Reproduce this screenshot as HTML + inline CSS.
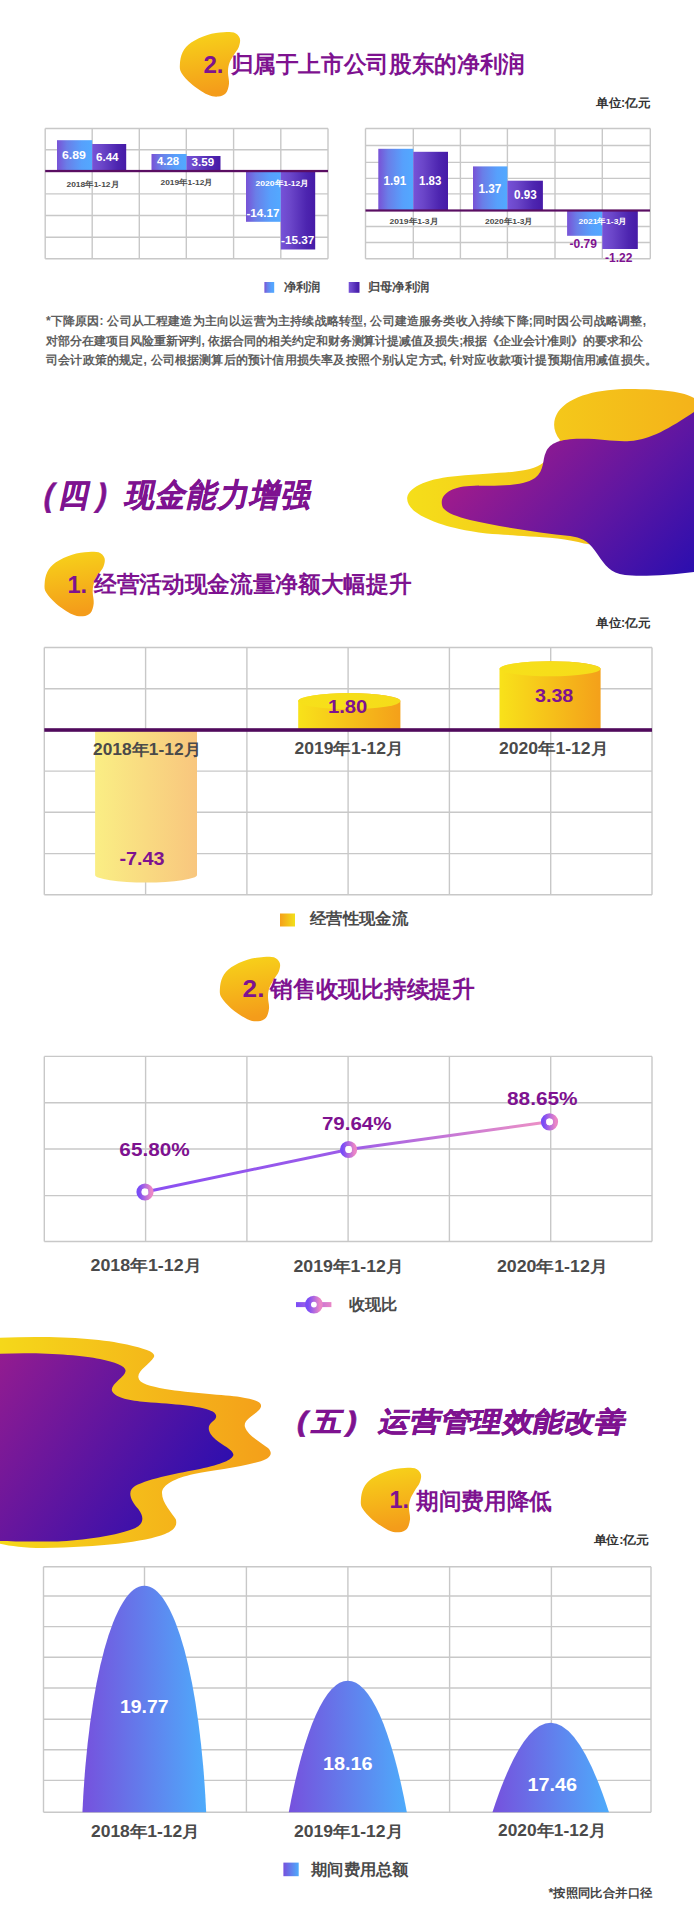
<!DOCTYPE html>
<html><head><meta charset="utf-8">
<style>
html,body{margin:0;padding:0;background:#fff;}
body{width:694px;height:1920px;overflow:hidden;font-family:"Liberation Sans",sans-serif;}
svg{display:block;font-family:"Liberation Sans",sans-serif;}
.g line{stroke:#c8c8c8;stroke-width:1.4;}
.gr{fill:none;stroke:#d4d4d4;stroke-width:1.3;}
.t{fill:#7b1d8f;font-weight:700;}
.dk{fill:#444;font-weight:700;}
.wt{fill:#fff;font-weight:700;}
</style></head>
<body>
<svg width="694" height="1920" viewBox="0 0 694 1920">
<defs>
  <linearGradient id="blobY" x1="0" y1="0" x2="0.15" y2="1"><stop offset="0" stop-color="#f7d51a"/><stop offset="1" stop-color="#f49c1a"/></linearGradient>
  <linearGradient id="barA" x1="0" y1="0" x2="1" y2="0"><stop offset="0" stop-color="#7852d6"/><stop offset="0.28" stop-color="#6a7ee8"/><stop offset="0.7" stop-color="#57a0fc"/><stop offset="1" stop-color="#52a9ff"/></linearGradient>
  <linearGradient id="barB" x1="0" y1="0" x2="1" y2="0"><stop offset="0" stop-color="#7652d8"/><stop offset="0.28" stop-color="#6b46c9"/><stop offset="0.74" stop-color="#4d25b0"/><stop offset="1" stop-color="#461aa7"/></linearGradient>
  <linearGradient id="cylS" x1="0" y1="0" x2="1" y2="0"><stop offset="0" stop-color="#f8e21a"/><stop offset="1" stop-color="#f4a01a"/></linearGradient>
  <linearGradient id="cylT" x1="0" y1="0" x2="1" y2="0"><stop offset="0" stop-color="#f7e01a"/><stop offset="1" stop-color="#f5dc1a"/></linearGradient>
  <linearGradient id="cylN" x1="0" y1="0" x2="1" y2="0"><stop offset="0" stop-color="#faee84"/><stop offset="1" stop-color="#f8c67e"/></linearGradient>
  <linearGradient id="bell" x1="0" y1="0" x2="1" y2="0">
    <stop offset="0" stop-color="#7651dd"/><stop offset="1" stop-color="#4eabfb"/>
  </linearGradient>
  <linearGradient id="lineG" gradientUnits="userSpaceOnUse" x1="145" y1="0" x2="550" y2="0">
    <stop offset="0" stop-color="#8a4ff2"/><stop offset="0.5" stop-color="#9c5ce8"/><stop offset="1" stop-color="#ef92c4"/>
  </linearGradient>
  <linearGradient id="mk" x1="0" y1="0" x2="1" y2="0">
    <stop offset="0" stop-color="#7a4cf6"/><stop offset="1" stop-color="#ea86c6"/>
  </linearGradient>
  <linearGradient id="sqO" x1="0" y1="0" x2="1" y2="0"><stop offset="0" stop-color="#f5a01a"/><stop offset="1" stop-color="#f2e01a"/></linearGradient>
  <linearGradient id="wY" x1="0" y1="0" x2="1" y2="0">
    <stop offset="0" stop-color="#f5de1a"/><stop offset="1" stop-color="#f4b31a"/>
  </linearGradient>
  <linearGradient id="wP" x1="0" y1="0" x2="1.17" y2="0.7235">
    <stop offset="0" stop-color="#bb1e82"/><stop offset="0.641" stop-color="#5e16a2"/><stop offset="1" stop-color="#2a0eaf"/>
  </linearGradient>
  <linearGradient id="wY2" x1="0" y1="0" x2="1" y2="0">
    <stop offset="0" stop-color="#f5d81a"/><stop offset="1" stop-color="#f49f1a"/>
  </linearGradient>
  <linearGradient id="wP2" x1="0" y1="0" x2="1.183" y2="0.683">
    <stop offset="0" stop-color="#931c90"/><stop offset="1" stop-color="#1b0cb4"/>
  </linearGradient>
  
  <path id="blob" d="M53.9 0.3 C56.6 1.4 59.0 3.6 59.8 6.0 C60.6 8.4 59.9 11.7 58.8 14.6 C57.7 17.5 55.0 20.4 53.4 23.3 C51.8 26.2 49.9 29.0 49.0 31.9 C48.1 34.8 48.0 37.4 48.0 40.6 C48.0 43.9 49.4 48.0 49.0 51.4 C48.6 54.8 47.6 58.9 45.8 61.0 C44.0 63.1 41.3 64.1 38.2 64.3 C35.1 64.5 31.9 64.4 27.4 62.2 C22.9 60.1 15.5 55.0 11.2 51.4 C6.9 47.8 3.4 43.9 1.5 40.6 C-0.4 37.4 -0.3 35.3 -0.1 31.9 C0.1 28.5 0.7 23.6 2.6 20.0 C4.5 16.4 7.1 13.2 11.2 10.3 C15.3 7.4 22.0 4.4 27.4 2.7 C32.8 1.0 39.2 0.4 43.6 0.0 C48.0 -0.4 51.2 -0.7 53.9 0.3 Z"/>
</defs>

<!-- ============ SECTION A: 归属于上市公司股东的净利润 ============ -->
<use href="#blob" x="180" y="32.3" fill="url(#blobY)"/>

<!-- left chart -->
<g class="g">
  <line x1="45.2" y1="128.5" x2="328" y2="128.5"/>
  <line x1="45.2" y1="149.8" x2="328" y2="149.8"/>
  <line x1="45.2" y1="193.9" x2="328" y2="193.9"/>
  <line x1="45.2" y1="215.5" x2="328" y2="215.5"/>
  <line x1="45.2" y1="237.3" x2="328" y2="237.3"/>
  <line x1="45.2" y1="258.8" x2="328" y2="258.8"/>
  <line x1="45.2" y1="128.5" x2="45.2" y2="258.8"/>
  <line x1="92.2" y1="128.5" x2="92.2" y2="258.8"/>
  <line x1="139.3" y1="128.5" x2="139.3" y2="258.8"/>
  <line x1="186.3" y1="128.5" x2="186.3" y2="258.8"/>
  <line x1="233.6" y1="128.5" x2="233.6" y2="258.8"/>
  <line x1="280.8" y1="128.5" x2="280.8" y2="258.8"/>
  <line x1="328" y1="128.5" x2="328" y2="258.8"/>
</g>
<rect x="57" y="140.2" width="35.2" height="31.5" fill="url(#barA)"/>
<rect x="92.2" y="144" width="34" height="27.7" fill="url(#barB)"/>
<rect x="151.5" y="154" width="35" height="17.7" fill="url(#barA)"/>
<rect x="186.5" y="156" width="34" height="15.7" fill="url(#barB)"/>
<rect x="246" y="171.7" width="34.8" height="50.1" fill="url(#barA)"/>
<rect x="280.8" y="171.7" width="34.4" height="77.8" fill="url(#barB)"/>
<rect x="45.2" y="169.9" width="282.8" height="2.3" fill="#5a0e62"/>

<!-- right chart -->
<g class="g">
  <line x1="365.5" y1="128.5" x2="650.3" y2="128.5"/>
  <line x1="365.5" y1="145.5" x2="650.3" y2="145.5"/>
  <line x1="365.5" y1="162.4" x2="650.3" y2="162.4"/>
  <line x1="365.5" y1="178.4" x2="650.3" y2="178.4"/>
  <line x1="365.5" y1="193.9" x2="650.3" y2="193.9"/>
  <line x1="365.5" y1="226.5" x2="650.3" y2="226.5"/>
  <line x1="365.5" y1="242.5" x2="650.3" y2="242.5"/>
  <line x1="365.5" y1="258.8" x2="650.3" y2="258.8"/>
  <line x1="365.5" y1="128.5" x2="365.5" y2="258.8"/>
  <line x1="413.3" y1="128.5" x2="413.3" y2="258.8"/>
  <line x1="460.4" y1="128.5" x2="460.4" y2="258.8"/>
  <line x1="507.4" y1="128.5" x2="507.4" y2="258.8"/>
  <line x1="555" y1="128.5" x2="555" y2="258.8"/>
  <line x1="602.3" y1="128.5" x2="602.3" y2="258.8"/>
  <line x1="650.3" y1="128.5" x2="650.3" y2="258.8"/>
</g>
<rect x="378.3" y="148.8" width="35" height="61.7" fill="url(#barA)"/>
<rect x="413.3" y="151.8" width="34.7" height="58.7" fill="url(#barB)"/>
<rect x="473" y="166.4" width="34.4" height="44.1" fill="url(#barA)"/>
<rect x="507.4" y="180.7" width="35.5" height="29.8" fill="url(#barB)"/>
<rect x="567.1" y="210.5" width="35.2" height="25.3" fill="url(#barA)"/>
<rect x="602.3" y="210.5" width="35.5" height="38.5" fill="url(#barB)"/>
<rect x="365.5" y="209.4" width="284.5" height="2.2" fill="#5a0e62"/>

<!-- legend -->
<rect x="264.4" y="282" width="9.8" height="10.8" fill="url(#barA)"/>
<rect x="348.7" y="282" width="10.8" height="10.8" fill="url(#barB)"/>

<!-- footnote -->
<g font-size="12" fill="#5e5e5e" font-weight="700">
  <text x="46" y="325" textLength="600" lengthAdjust="spacing">*下降原因: 公司从工程建造为主向以运营为主持续战略转型, 公司建造服务类收入持续下降;同时因公司战略调整,</text>
  <text x="46" y="344.5" textLength="596.5" lengthAdjust="spacing">对部分在建项目风险重新评判, 依据合同的相关约定和财务测算计提减值及损失;根据《企业会计准则》的要求和公</text>
  <text x="46" y="364" textLength="611" lengthAdjust="spacing">司会计政策的规定, 公司根据测算后的预计信用损失率及按照个别认定方式, 针对应收款项计提预期信用减值损失。</text>
</g>

<!-- ============ SECTION B: 现金能力增强 ============ -->
<path d="M407.2 497.5 C409 486 430 478 457.6 475.9 C480 474 505 473 515.3 471.5 C530 470 540 467 546 460 L560 440 C552 430 553 420 558 412 C570 395 600 389 630 389 C660 389 685 392 694 398 L694 560 L584 543.6 C570 539 545 537 529.7 536.4 C510 535 500 534.5 486.5 533.5 C465 531 450 527 443.2 524.8 C425 519 406 510 407.2 497.5 Z" fill="url(#wY)"/>
<path d="M442 505 C440 495 450 487 470 486 C490 485 520 488 535 478 C545 470 542 460 546 452 C550 443 560 439 580 438.8 C600 438.5 615 442 630 441 C650 440 670 428 694 412 L694 572 C670 575 640 577 625 575 C610 573 605 565 598 555 C590 543 585 538 570 536 C540 533 500 527 470 520 C455 516 443 512 442 505 Z" fill="url(#wP)"/>
<g fill="#7e1290" stroke="#7e1290" stroke-width="0.6" font-weight="900" text-anchor="middle" transform="translate(0 495) skewX(-12) translate(0 -495) scale(0.92 1)"><text x="53.8" y="506" font-size="32" font-family="Liberation Sans" font-weight="700">(</text><text x="82.0" y="506" font-size="32">四</text><text x="111.4" y="506" font-size="32" font-family="Liberation Sans" font-weight="700">)</text><text x="153.6 187.4 221.2 255.0 288.8 322.6" y="506" font-size="32">现金能力增强</text></g>

<use href="#blob" x="44.7" y="552" fill="url(#blobY)"/>

<g class="g">
  <line x1="44.3" y1="647.5" x2="652" y2="647.5"/><line x1="44.3" y1="688.7" x2="652" y2="688.7"/>
  <line x1="44.3" y1="771.1" x2="652" y2="771.1"/><line x1="44.3" y1="812.3" x2="652" y2="812.3"/>
  <line x1="44.3" y1="853.6" x2="652" y2="853.6"/><line x1="44.3" y1="894.8" x2="652" y2="894.8"/>
  <line x1="44.3" y1="647.5" x2="44.3" y2="894.8"/><line x1="145.6" y1="647.5" x2="145.6" y2="894.8"/>
  <line x1="246.9" y1="647.5" x2="246.9" y2="894.8"/><line x1="348.1" y1="647.5" x2="348.1" y2="894.8"/>
  <line x1="449.4" y1="647.5" x2="449.4" y2="894.8"/><line x1="550.7" y1="647.5" x2="550.7" y2="894.8"/>
  <line x1="652" y1="647.5" x2="652" y2="894.8"/>
</g>
<!-- 2018 negative cylinder -->
<path d="M95.1 731 L197 731 L197 875 A50.95 7.5 0 0 1 95.1 875 Z" fill="url(#cylN)"/>
<!-- 2019 -->
<path d="M298.2 701.1 A51.1 8 0 0 1 400.4 701.1 L400.4 730 L298.2 730 Z" fill="url(#cylS)"/>
<ellipse cx="349.3" cy="701.1" rx="51.1" ry="8" fill="url(#cylT)"/>
<!-- 2020 -->
<path d="M499.5 668.8 A50.55 7.5 0 0 1 600.6 668.8 L600.6 730 L499.5 730 Z" fill="url(#cylS)"/>
<ellipse cx="550.05" cy="668.8" rx="50.55" ry="7.5" fill="url(#cylT)"/>
<rect x="44.3" y="728.2" width="607.7" height="3.6" fill="#500a5c"/>
<rect x="280" y="913.5" width="15" height="13" fill="url(#sqO)"/>

<!-- ============ SECTION C: 销售收现比持续提升 ============ -->
<use href="#blob" x="220" y="957" fill="url(#blobY)"/>
<g class="g">
  <line x1="44.3" y1="1056.4" x2="652" y2="1056.4"/><line x1="44.3" y1="1102.7" x2="652" y2="1102.7"/>
  <line x1="44.3" y1="1149" x2="652" y2="1149"/><line x1="44.3" y1="1195.6" x2="652" y2="1195.6"/>
  <line x1="44.3" y1="1241.5" x2="652" y2="1241.5"/>
  <line x1="44.3" y1="1056.4" x2="44.3" y2="1241.5"/><line x1="145.6" y1="1056.4" x2="145.6" y2="1241.5"/>
  <line x1="246.9" y1="1056.4" x2="246.9" y2="1241.5"/><line x1="348.1" y1="1056.4" x2="348.1" y2="1241.5"/>
  <line x1="449.4" y1="1056.4" x2="449.4" y2="1241.5"/><line x1="550.7" y1="1056.4" x2="550.7" y2="1241.5"/>
  <line x1="652" y1="1056.4" x2="652" y2="1241.5"/>
</g>
<polyline points="145,1192 348.6,1149.5 549.5,1121.8" fill="none" stroke="url(#lineG)" stroke-width="3"/>
<g fill="none" stroke="url(#mk)" stroke-width="5.2">
  <circle cx="145" cy="1192" r="6"/><circle cx="348.6" cy="1149.5" r="6"/><circle cx="549.5" cy="1121.8" r="6"/>
</g>
<g fill="#fff"><circle cx="145" cy="1192" r="3.4"/><circle cx="348.6" cy="1149.5" r="3.4"/><circle cx="549.5" cy="1121.8" r="3.4"/></g>
<rect x="296" y="1302.1" width="35.4" height="5" fill="url(#mk)"/>
<circle cx="313.9" cy="1304.6" r="5.9" fill="#fff" stroke="url(#mk)" stroke-width="6"/>

<!-- ============ SECTION D: 运营管理效能改善 ============ -->
<path d="M0 1337.7 C50 1335.5 100 1338 127 1344.6 C145 1349 156 1352 154 1357 C150 1364 138 1370 138.3 1377 C139 1384 150 1386 165 1389 C190 1393 226 1395 240 1397 C258 1400 265 1403 259 1410 C253 1416 243 1420 245 1427 C248 1436 262 1443 268 1448 C274 1454 270 1459 258 1462 C240 1467 210 1471 194 1474 C175 1478 162 1485 162 1493 C162 1503 172 1513 175.8 1519.3 C178 1527 172 1531 165 1534 C145 1542 100 1547 43 1548 C25 1548 10 1546 0 1543.7 Z" fill="url(#wY2)"/>
<path d="M0 1353.8 C40 1352 80 1355 100 1359 C115 1362 126 1366 125.6 1371 C125 1377 112 1383 111.8 1389.6 C112 1396 125 1400 140 1401.5 C170 1404 195 1405 209 1410 C218 1413 218 1418 212 1422 C206 1427 209 1434 215.6 1439.4 C222 1445 234 1450 233.4 1455 C232 1460 222 1464 200 1469 C180 1473 150 1478 135 1486 C127 1491 130 1500 138.3 1509 C145 1518 143 1524 135.4 1528 C120 1535 80 1541 57.6 1541.4 C30 1542 10 1541 0 1540.9 Z" fill="url(#wP2)"/>
<g fill="#7e1290" stroke="#7e1290" stroke-width="0.6" font-weight="900" text-anchor="middle" transform="translate(0 1421) skewX(-12) translate(0 -1421) scale(1.12 1)"><text x="270.5" y="1431" font-size="28" font-family="Liberation Sans" font-weight="700">(</text><text x="293.0" y="1431" font-size="27">五</text><text x="314.5" y="1431" font-size="28" font-family="Liberation Sans" font-weight="700">)</text><text x="352.6 380.2 407.9 435.5 463.2 490.8 518.5 546.2" y="1431" font-size="27">运营管理效能改善</text></g>

<use href="#blob" x="361" y="1468" fill="url(#blobY)"/>

<g class="g">
  <line x1="43.5" y1="1566.8" x2="651" y2="1566.8"/>
  <line x1="43.5" y1="1596" x2="651" y2="1596"/>
  <line x1="43.5" y1="1626.6" x2="651" y2="1626.6"/>
  <line x1="43.5" y1="1657.3" x2="651" y2="1657.3"/>
  <line x1="43.5" y1="1688" x2="651" y2="1688"/>
  <line x1="43.5" y1="1719.2" x2="651" y2="1719.2"/>
  <line x1="43.5" y1="1749.8" x2="651" y2="1749.8"/>
  <line x1="43.5" y1="1780.4" x2="651" y2="1780.4"/>
  <line x1="43.5" y1="1812.2" x2="651" y2="1812.2"/>
  <line x1="43.5" y1="1566.8" x2="43.5" y2="1812.2"/>
  <line x1="144.5" y1="1566.8" x2="144.5" y2="1812.2"/>
  <line x1="246.4" y1="1566.8" x2="246.4" y2="1812.2"/>
  <line x1="347.9" y1="1566.8" x2="347.9" y2="1812.2"/>
  <line x1="449.6" y1="1566.8" x2="449.6" y2="1812.2"/>
  <line x1="551.4" y1="1566.8" x2="551.4" y2="1812.2"/>
  <line x1="651" y1="1566.8" x2="651" y2="1812.2"/>
</g>
<path d="M82.42 1812.2 A63.11 281.85 0 0 1 206.18 1812.2 Z" fill="url(#bell)"/>
<path d="M288.76 1812.2 A84.59 463.28 0 0 1 406.84 1812.2 Z" fill="url(#bell)"/>
<path d="M492.45 1812.2 Q550.7 1633.40 608.95 1812.2 Z" fill="url(#bell)"/>
<rect x="283.4" y="1862.6" width="15.3" height="13.6" fill="url(#bell)"/>

<text id="a_n" x="203.45" y="73.10" font-size="23" fill="#7e1290" font-weight="700" textLength="20.12" lengthAdjust="spacingAndGlyphs">2.</text>
<text id="a_t" x="230.51" y="72.20" font-size="23" fill="#7e1290" font-weight="700" textLength="294.39" lengthAdjust="spacingAndGlyphs">归属于上市公司股东的净利润</text>
<text id="a_u" x="596.00" y="107.20" font-size="12" fill="#333" font-weight="700" textLength="54.21" lengthAdjust="spacingAndGlyphs">单位:亿元</text>
<text id="a_v1" x="61.96" y="158.60" font-size="11" fill="#fff" font-weight="700" textLength="23.90" lengthAdjust="spacingAndGlyphs">6.89</text>
<text id="a_v2" x="95.94" y="161.20" font-size="11" fill="#fff" font-weight="700" textLength="22.66" lengthAdjust="spacingAndGlyphs">6.44</text>
<text id="a_v3" x="157.00" y="165.20" font-size="11" fill="#fff" font-weight="700" textLength="22.04" lengthAdjust="spacingAndGlyphs">4.28</text>
<text id="a_v4" x="191.49" y="166.20" font-size="11" fill="#fff" font-weight="700" textLength="22.66" lengthAdjust="spacingAndGlyphs">3.59</text>
<text id="a_v5" x="246.45" y="217.00" font-size="11" fill="#fff" font-weight="700" textLength="33.09" lengthAdjust="spacingAndGlyphs">-14.17</text>
<text id="a_v6" x="280.99" y="244.30" font-size="11" fill="#fff" font-weight="700" textLength="33.42" lengthAdjust="spacingAndGlyphs">-15.37</text>
<text id="a_x1" x="66.48" y="186.50" font-size="8" fill="#4a4a4a" font-weight="700" textLength="52.51" lengthAdjust="spacingAndGlyphs">2018年1-12月</text>
<text id="a_x2" x="160.47" y="185.10" font-size="8" fill="#4a4a4a" font-weight="700" textLength="52.31" lengthAdjust="spacingAndGlyphs">2019年1-12月</text>
<text id="a_x3" x="255.51" y="185.90" font-size="8" fill="#fff" font-weight="700" textLength="53.49" lengthAdjust="spacingAndGlyphs">2020年1-12月</text>
<text id="b_v1" x="383.50" y="184.80" font-size="12" fill="#fff" font-weight="700" textLength="22.75" lengthAdjust="spacingAndGlyphs">1.91</text>
<text id="b_v2" x="419.02" y="184.80" font-size="12" fill="#fff" font-weight="700" textLength="22.34" lengthAdjust="spacingAndGlyphs">1.83</text>
<text id="b_v3" x="478.48" y="193.30" font-size="12" fill="#fff" font-weight="700" textLength="22.81" lengthAdjust="spacingAndGlyphs">1.37</text>
<text id="b_v4" x="514.02" y="198.80" font-size="12" fill="#fff" font-weight="700" textLength="22.75" lengthAdjust="spacingAndGlyphs">0.93</text>
<text id="b_v5" x="569.48" y="247.90" font-size="12" fill="#7e1290" font-weight="700" textLength="27.38" lengthAdjust="spacingAndGlyphs">-0.79</text>
<text id="b_v6" x="605.00" y="261.80" font-size="12" fill="#7e1290" font-weight="700" textLength="27.38" lengthAdjust="spacingAndGlyphs">-1.22</text>
<text id="b_x1" x="389.50" y="223.80" font-size="8" fill="#4a4a4a" font-weight="700" textLength="48.62" lengthAdjust="spacingAndGlyphs">2019年1-3月</text>
<text id="b_x2" x="484.98" y="223.80" font-size="8" fill="#4a4a4a" font-weight="700" textLength="47.85" lengthAdjust="spacingAndGlyphs">2020年1-3月</text>
<text id="b_x3" x="578.49" y="223.80" font-size="8" fill="#fff" font-weight="700" textLength="48.46" lengthAdjust="spacingAndGlyphs">2021年1-3月</text>
<text id="l_1" x="283.99" y="290.60" font-size="12" fill="#4a4a4a" font-weight="700" textLength="36.60" lengthAdjust="spacingAndGlyphs">净利润</text>
<text id="l_2" x="368.00" y="290.60" font-size="12" fill="#4a4a4a" font-weight="700" textLength="61.21" lengthAdjust="spacingAndGlyphs">归母净利润</text>
<text id="c_n" x="67.46" y="592.60" font-size="23" fill="#7e1290" font-weight="700" textLength="19.69" lengthAdjust="spacingAndGlyphs">1.</text>
<text id="c_t" x="94.00" y="592.00" font-size="23" fill="#7e1290" font-weight="700" textLength="317.40" lengthAdjust="spacingAndGlyphs">经营活动现金流量净额大幅提升</text>
<text id="c_u" x="596.00" y="627.20" font-size="12" fill="#333" font-weight="700" textLength="54.21" lengthAdjust="spacingAndGlyphs">单位:亿元</text>
<text id="c_v1" x="119.41" y="865.00" font-size="18" fill="#7e1290" font-weight="700" textLength="45.16" lengthAdjust="spacingAndGlyphs">-7.43</text>
<text id="c_v2" x="327.91" y="713.30" font-size="18" fill="#7e1290" font-weight="700" textLength="39.39" lengthAdjust="spacingAndGlyphs">1.80</text>
<text id="c_v3" x="534.97" y="701.60" font-size="18" fill="#7e1290" font-weight="700" textLength="38.35" lengthAdjust="spacingAndGlyphs">3.38</text>
<text id="c_x1" x="93.00" y="754.90" font-size="16" fill="#4a4a4a" font-weight="700" textLength="107.84" lengthAdjust="spacingAndGlyphs">2018年1-12月</text>
<text id="c_x2" x="294.50" y="753.80" font-size="16" fill="#4a4a4a" font-weight="700" textLength="109.08" lengthAdjust="spacingAndGlyphs">2019年1-12月</text>
<text id="c_x3" x="499.00" y="754.00" font-size="16" fill="#4a4a4a" font-weight="700" textLength="109.07" lengthAdjust="spacingAndGlyphs">2020年1-12月</text>
<text id="c_l" x="310.00" y="924.00" font-size="16" fill="#4a4a4a" font-weight="700" textLength="98.21" lengthAdjust="spacingAndGlyphs">经营性现金流</text>
<text id="d_n" x="242.62" y="996.65" font-size="23" fill="#7e1290" font-weight="700" textLength="21.79" lengthAdjust="spacingAndGlyphs">2.</text>
<text id="d_t" x="269.99" y="997.00" font-size="23" fill="#7e1290" font-weight="700" textLength="205.01" lengthAdjust="spacingAndGlyphs">销售收现比持续提升</text>
<text id="d_v1" x="119.38" y="1156.00" font-size="18" fill="#7e1290" font-weight="700" textLength="70.24" lengthAdjust="spacingAndGlyphs">65.80%</text>
<text id="d_v2" x="321.91" y="1129.80" font-size="18" fill="#7e1290" font-weight="700" textLength="69.58" lengthAdjust="spacingAndGlyphs">79.64%</text>
<text id="d_v3" x="506.97" y="1104.80" font-size="18" fill="#7e1290" font-weight="700" textLength="70.63" lengthAdjust="spacingAndGlyphs">88.65%</text>
<text id="d_x1" x="90.49" y="1271.40" font-size="16" fill="#4a4a4a" font-weight="700" textLength="110.94" lengthAdjust="spacingAndGlyphs">2018年1-12月</text>
<text id="d_x2" x="293.46" y="1272.10" font-size="16" fill="#4a4a4a" font-weight="700" textLength="110.21" lengthAdjust="spacingAndGlyphs">2019年1-12月</text>
<text id="d_x3" x="497.00" y="1272.10" font-size="16" fill="#4a4a4a" font-weight="700" textLength="110.52" lengthAdjust="spacingAndGlyphs">2020年1-12月</text>
<text id="d_l" x="348.99" y="1310.00" font-size="16" fill="#4a4a4a" font-weight="700" textLength="48.61" lengthAdjust="spacingAndGlyphs">收现比</text>
<text id="e_n" x="389.56" y="1508.25" font-size="23" fill="#7e1290" font-weight="700" textLength="19.57" lengthAdjust="spacingAndGlyphs">1.</text>
<text id="e_t" x="416.00" y="1508.80" font-size="23" fill="#7e1290" font-weight="700" textLength="135.81" lengthAdjust="spacingAndGlyphs">期间费用降低</text>
<text id="e_u" x="593.52" y="1544.10" font-size="12" fill="#333" font-weight="700" textLength="55.60" lengthAdjust="spacingAndGlyphs">单位:亿元</text>
<text id="e_v1" x="119.92" y="1713.40" font-size="18" fill="#fff" font-weight="700" textLength="48.56" lengthAdjust="spacingAndGlyphs">19.77</text>
<text id="e_v2" x="322.90" y="1770.00" font-size="18" fill="#fff" font-weight="700" textLength="49.76" lengthAdjust="spacingAndGlyphs">18.16</text>
<text id="e_v3" x="527.43" y="1791.40" font-size="18" fill="#fff" font-weight="700" textLength="49.56" lengthAdjust="spacingAndGlyphs">17.46</text>
<text id="e_x1" x="90.98" y="1837.00" font-size="16" fill="#4a4a4a" font-weight="700" textLength="108.76" lengthAdjust="spacingAndGlyphs">2018年1-12月</text>
<text id="e_x2" x="294.00" y="1836.70" font-size="16" fill="#4a4a4a" font-weight="700" textLength="109.07" lengthAdjust="spacingAndGlyphs">2019年1-12月</text>
<text id="e_x3" x="498.00" y="1836.10" font-size="16" fill="#4a4a4a" font-weight="700" textLength="107.84" lengthAdjust="spacingAndGlyphs">2020年1-12月</text>
<text id="e_l" x="310.99" y="1874.80" font-size="16" fill="#4a4a4a" font-weight="700" textLength="97.80" lengthAdjust="spacingAndGlyphs">期间费用总额</text>
<text id="e_f" x="548.59" y="1897.40" font-size="12" fill="#444" font-weight="700" textLength="103.67" lengthAdjust="spacingAndGlyphs">*按照同比合并口径</text>
</svg>
</body></html>
